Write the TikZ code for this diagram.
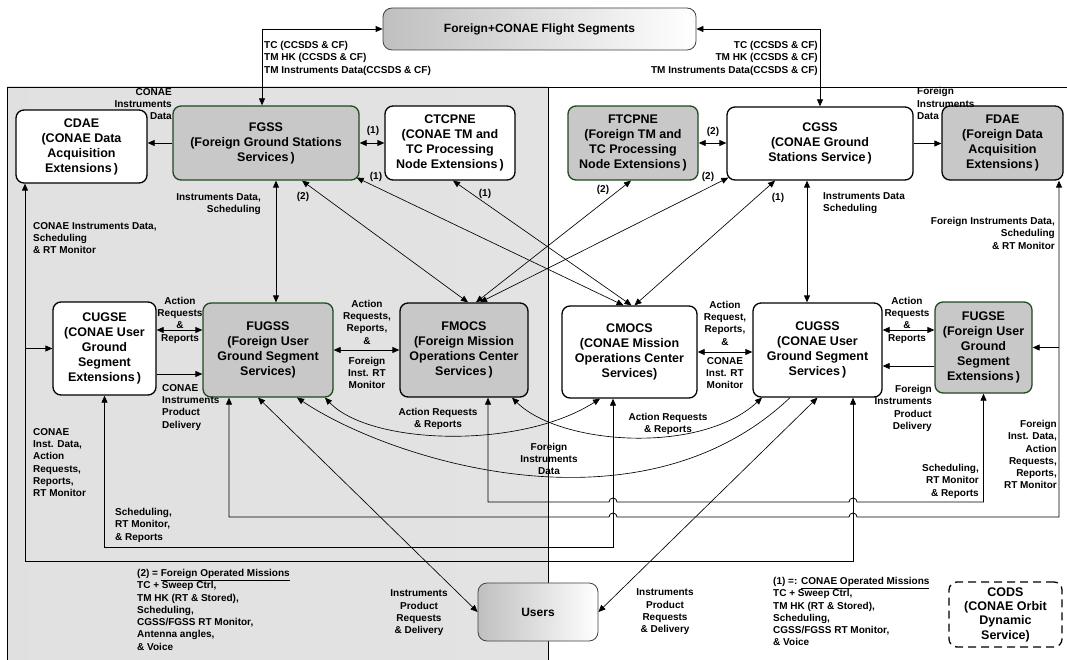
\documentclass[tikz,border=0pt]{standalone}
\usepackage{fontspec}
\setmainfont{Liberation Sans}
\usetikzlibrary{arrows.meta}
\definecolor{gfill}{HTML}{C8C8C8}
\definecolor{gedge}{HTML}{1E4A1E}
\begin{document}
\begin{tikzpicture}[x=1pt,y=-1pt,
  >={Triangle[length=7pt,width=6pt]},
  sbox/.style={draw=black,line width=1.3pt,rounded corners=8pt,fill=white,align=center,inner sep=1pt,font=\fontsize{12.5}{15}\selectfont\bfseries},
  fgbox/.style={sbox,fill=gfill,draw=gedge},
  gybox/.style={sbox,fill=gfill},
  shbox/.style={draw=black!75,line width=0.8pt,rounded corners=9pt,left color=gray!50,right color=white,font=\fontsize{12}{14}\selectfont\bfseries},
  lbl/.style={inner sep=0pt,font=\fontsize{10}{12.3}\selectfont\bfseries},
  con/.style={draw,line width=0.8pt},
  thn/.style={draw,line width=0.65pt}]

\useasboundingbox (0,0) rectangle (1067,660);

% panels
\path[left color=gray!24,middle color=gray!5,right color=gray!22] (7,87) rectangle (548,662);
\draw[line width=0.7pt] (7,662) -- (7,87) -- (1067,87);
\draw[line width=0.7pt] (548,87) -- (548,662);

% boxes
\node[shbox,minimum width=313pt,minimum height=42pt] (flight) at (539.5,29) {Foreign+CONAE Flight Segments};
\node[sbox,minimum width=131pt,minimum height=73pt] (cdae) at (81.5,146.5) {CDAE\\(CONAE Data\\Acquisition\\Extensions\,)};
\node[fgbox,minimum width=186pt,minimum height=74pt] (fgss) at (266,143) {FGSS\\(Foreign Ground Stations\\Services\,)};
\node[sbox,minimum width=130pt,minimum height=74pt] (ctcpne) at (450,143) {CTCPNE\\(CONAE TM and\\TC Processing\\Node Extensions\,)};
\node[fgbox,minimum width=130pt,minimum height=74pt] (ftcpne) at (633,143) {FTCPNE\\(Foreign TM and\\TC Processing\\Node Extensions\,)};
\node[sbox,minimum width=186pt,minimum height=73pt] (cgss) at (820,143.5) {CGSS\\(CONAE Ground\\Stations Service\,)};
\node[gybox,minimum width=121pt,minimum height=74pt] (fdae) at (1002.5,143) {FDAE\\(Foreign Data\\Acquisition\\Extensions\,)};
\node[sbox,minimum width=103pt,minimum height=93pt] (cugse) at (104.5,348.5) {CUGSE\\(CONAE User\\Ground\\Segment\\Extensions\,)};
\node[fgbox,minimum width=130pt,minimum height=94pt] (fugss) at (268,350) {FUGSS\\(Foreign User\\Ground Segment\\Services)};
\node[gybox,minimum width=128pt,minimum height=94pt] (fmocs) at (464,350) {FMOCS\\(Foreign Mission\\Operations Center\\Services\,)};
\node[sbox,minimum width=135pt,minimum height=92pt] (cmocs) at (629.5,352) {CMOCS\\(CONAE Mission\\Operations Center\\Services)};
\node[sbox,minimum width=129pt,minimum height=94pt] (cugss) at (817.5,350) {CUGSS\\(CONAE User\\Ground Segment\\Services\,)};
\node[fgbox,minimum width=97pt,minimum height=91pt] (fugse) at (983.5,347.5) {FUGSE\\(Foreign User\\Ground\\Segment\\Extensions\,)};
\node[shbox,minimum width=120pt,minimum height=58pt] (users) at (538,612) {Users};
\node[sbox,dash pattern=on 8pt off 5pt,minimum width=113pt,minimum height=65pt,font=\fontsize{12.5}{14.3}\selectfont\bfseries] (cods) at (1005.5,614.5) {CODS\\(CONAE Orbit\\Dynamic\\Service)};

% helper coordinates
\coordinate (v1) at ([xshift=-16.5pt]cmocs.south);
\coordinate (v2) at ([xshift=35.5pt]cugss.south);
\coordinate (bA) at (25,561);
\coordinate (bB) at (1059,517);
\coordinate (bC) at (0,547);
\coordinate (bD) at (0,502);

% top connectors
\draw[con,<->] (flight.west) -| ([xshift=-4pt]fgss.north);
\draw[con,<->] (flight.east) -| (cgss.north);
\draw[con,->] (fgss.west) -- (fgss.west -| cdae.east);
\draw[con,<->] (fgss.east) -- (fgss.east -| ctcpne.west);
\draw[con,<->] (ftcpne.east) -- (ftcpne.east -| cgss.west);
\draw[con,->] (cgss.east) -- (cgss.east -| fdae.west);
\draw[con,<->] ([xshift=10pt]fgss.south) -- ([xshift=10pt]fgss.south |- fugss.north);
\draw[con,<->] ([xshift=-13pt]cgss.south) -- ([xshift=-13pt]cgss.south |- cugss.north);

% diagonals
\draw[thn,<->] ([xshift=36pt]fgss.south) -- ([xshift=4pt]fmocs.north);
\draw[thn,<->] ([shift={(-3pt,3pt)}]fgss.south east) -- ([xshift=-6pt]cmocs.north);
\draw[thn,<->] ([xshift=3pt]ctcpne.south) -- ([xshift=2pt]cmocs.north);
\draw[thn,<->] ([xshift=-2pt]ftcpne.south) -- ([xshift=12pt]fmocs.north);
\draw[thn,<->] ([shift={(2pt,3pt)}]cgss.south west) -- ([xshift=16pt]fmocs.north);
\draw[thn,<->] ([xshift=-45pt]cgss.south) -- ([xshift=5pt]cmocs.north);

% middle row
\draw[con,<->] ([yshift=18.5pt]cugse.east) -- ([yshift=18.5pt]cugse.east -| fugss.west);
\draw[con,->] ([yshift=-25.5pt]cugse.east) -- ([yshift=-25.5pt]cugse.east -| fugss.west);
\draw[con,<->] (fugss.east) -- (fugss.east -| fmocs.west);
\draw[con,<->] (cmocs.east) -- (cmocs.east -| cugss.west);
\draw[con,<->] ([yshift=20pt]cugss.east) -- ([yshift=20pt]cugss.east -| fugse.west);
\draw[con,->] ([yshift=-18.5pt]fugse.west) -- ([yshift=-18.5pt]fugse.west -| cugss.east);

% buses
\draw[con,<->] (v2) |- (bA) -- (bA |- cdae.south);
\draw[con,->] (bA |- cugse.west) -- (cugse.west);
\draw[con,<->] (cugse.south) |- (v1 |- bC) -- (v1);
\draw[con,<->] ([xshift=-39pt]fugss.south) |- ([xshift=-4pt]v1 |- bB) arc[start angle=180,end angle=0,radius=4pt] -- ([xshift=-4pt]v2 |- bB) arc[start angle=180,end angle=0,radius=4pt] -- (bB) -- (bB |- fdae.south);
\draw[con,->] (bB |- fugse.east) -- (fugse.east);
\draw[con,<->] ([xshift=24pt]fmocs.south) |- ([xshift=-4pt]v1 |- bD) arc[start angle=180,end angle=0,radius=4pt] -- ([xshift=-4pt]v2 |- bD) arc[start angle=180,end angle=0,radius=4pt] -- (fugse.south |- bD) -- (fugse.south);

% users
\draw[thn,<->] ([xshift=-10pt]fugss.south) -- (users.west);
\draw[thn,<->] (cugss.south) -- (users.east);

% curves
\draw[thn,<->] ([xshift=57pt]fugss.south) .. controls (370,445) and (520,450) .. ([xshift=-29.5pt]cmocs.south);
\draw[thn,->] ([xshift=-27.5pt]cugss.south) .. controls (640,540) and (390,460) .. ([xshift=29pt]fugss.south);
\draw[thn,<->] ([xshift=48pt]fmocs.south) .. controls (560,445) and (700,455) .. ([xshift=-55.5pt]cugss.south);

% labels
\node[lbl,anchor=north west,align=left] (l1) at (264,41) {TC (CCSDS \& CF)\\TM HK (CCSDS \& CF)\\TM Instruments Data(CCSDS \& CF)};
\node[lbl,anchor=north east,align=right] (l2) at (818,41) {TC (CCSDS \& CF)\\TM HK (CCSDS \& CF)\\TM Instruments Data(CCSDS \& CF)};
\node[lbl,anchor=north east,align=right] (l3) at (172,88) {CONAE\\Instruments\\Data};
\node[lbl,anchor=north east,align=right] (l4) at (261,193) {Instruments Data,\\Scheduling};
\node[lbl] (p1) at (373,131) {(1)};
\node[lbl] (p2) at (376,177) {(1)};
\node[lbl] (p3) at (303,197) {(2)};
\node[lbl] (p4) at (485,194) {(1)};
\node[lbl] (p5) at (603,190) {(2)};
\node[lbl] (p6) at (713,132) {(2)};
\node[lbl] (p7) at (708,177) {(2)};
\node[lbl] (p8) at (778,198) {(1)};
\node[lbl,anchor=north west,align=left] (l5) at (823,192) {Instruments Data\\Scheduling};
\node[lbl,anchor=north west,align=left] (l6) at (917,87.5) {Foreign\\Instruments\\Data};
\node[lbl,anchor=north west,align=left] (l7) at (33,222) {CONAE Instruments Data,\\Scheduling\\\& RT Monitor};
\node[lbl,anchor=north east,align=right] (l8) at (1055,217) {Foreign Instruments Data,\\Scheduling\\\& RT Monitor};
\node[lbl,align=center] (l9) at (180,320) {Action\\Requests\\\&\\Reports};
\node[lbl,align=center] (l10) at (367,322) {Action\\Requests,\\Reports,\\\&};
\node[lbl,align=center] (l11) at (367,373) {Foreign\\Inst. RT\\Monitor};
\node[lbl,align=center] (l12) at (725,323) {Action\\Request,\\Reports,\\\&};
\node[lbl,align=center] (l13) at (725,373) {CONAE\\Inst. RT\\Monitor};
\node[lbl,align=center] (l14) at (907,320) {Action\\Requests\\\&\\Reports};
\node[lbl,anchor=north west,align=left] (l15) at (162,384) {CONAE\\Instruments\\Product\\Delivery};
\node[lbl,anchor=north east,align=right] (l16) at (932,385) {Foreign\\Instruments\\Product\\Delivery};
\node[lbl,anchor=north west,align=left] (l17) at (33,428) {CONAE\\Inst. Data,\\Action\\Requests,\\Reports,\\RT Monitor};
\node[lbl,anchor=north west,align=left] (l18) at (115,508) {Scheduling,\\RT Monitor,\\\& Reports};
\node[lbl,anchor=north east,align=right] (l19) at (1057,420) {Foreign\\Inst. Data,\\Action\\Requests,\\Reports,\\RT Monitor};
\node[lbl,anchor=north east,align=right] (l20) at (979,464) {Scheduling,\\RT Monitor\\\& Reports};
\node[lbl,align=center] (l21) at (438,419) {Action Requests\\\& Reports};
\node[lbl,align=center] (l22) at (668,424) {Action Requests\\\& Reports};
\node[lbl,align=center] (l23) at (549,459) {Foreign\\Instruments\\Data};
\node[lbl,align=center] (l24) at (419,613) {Instruments\\Product\\Requests\\\& Delivery};
\node[lbl,align=center] (l25) at (665,612) {Instruments\\Product\\Requests\\\& Delivery};
\node[lbl,anchor=north west,align=left] (n2) at (137,569) {(2) = \underline{Foreign Operated Missions}\\TC + Sweep Ctrl,\\TM HK (RT \& Stored),\\Scheduling,\\CGSS/FGSS RT Monitor,\\Antenna angles,\\\& Voice};
\node[lbl,anchor=north west,align=left] (n1) at (773,577) {(1) =: \underline{CONAE Operated Missions}\\TC + Sweep Ctrl,\\TM HK (RT \& Stored),\\Scheduling,\\CGSS/FGSS RT Monitor,\\\& Voice};
\end{tikzpicture}
\end{document}
